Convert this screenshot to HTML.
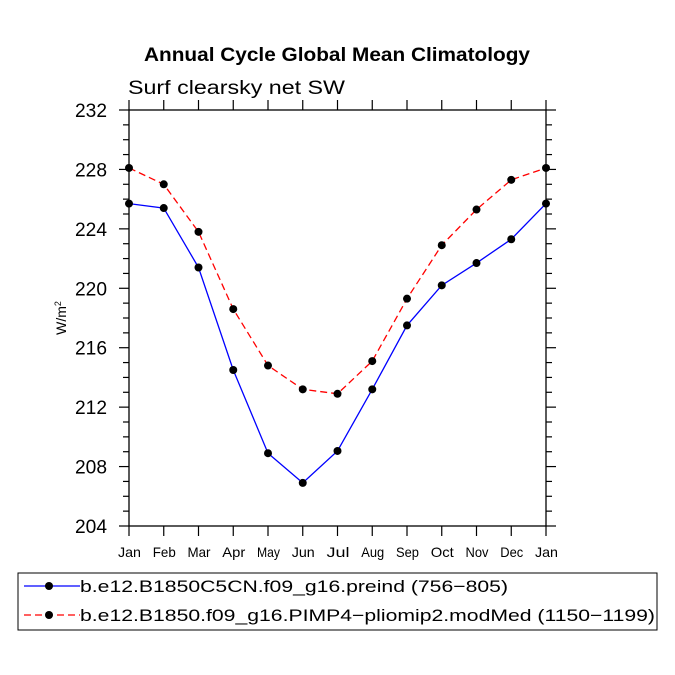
<!DOCTYPE html>
<html><head><meta charset="utf-8"><style>body{margin:0;background:#fff}svg{display:block}text{font-family:"Liberation Sans",sans-serif}</style></head>
<body>
<svg id="c" width="675" height="675" viewBox="0 0 675 675">
<text x="144" y="61" textLength="386" lengthAdjust="spacingAndGlyphs" font-size="19" font-weight="bold">Annual Cycle Global Mean Climatology</text>
<text x="128" y="94" textLength="217" lengthAdjust="spacingAndGlyphs" font-size="19">Surf clearsky net SW</text>
<text transform="translate(66,318) rotate(-90)" text-anchor="middle" font-size="14">W/m<tspan dy="-5" font-size="9">2</tspan></text>
<g id="axes"></g><g id="series"></g>
<rect x="18" y="573" width="639" height="57" fill="none" stroke="#000" stroke-width="1"/>
<g>
<line x1="24" y1="586" x2="80" y2="586" stroke="#00f" stroke-width="1.3"/><circle cx="49" cy="586" r="4" fill="#000"/>
<text x="80" y="592" textLength="428" lengthAdjust="spacingAndGlyphs" font-size="17">b.e12.B1850C5CN.f09_g16.preind (756−805)</text></g>
<g>
<line x1="24" y1="615" x2="80" y2="615" stroke="#f00" stroke-width="1.3" stroke-dasharray="7,4"/><circle cx="49" cy="615" r="4" fill="#000"/>
<text x="80" y="621" textLength="575" lengthAdjust="spacingAndGlyphs" font-size="17">b.e12.B1850.f09_g16.PIMP4−pliomip2.modMed (1150−1199)</text></g>
</svg>
<script>
const months=["Jan","Feb","Mar","Apr","May","Jun","Jul","Aug","Sep","Oct","Nov","Dec","Jan"];
const preind=[225.7,225.4,221.4,214.5,208.9,206.9,209.05,213.2,217.5,220.2,221.7,223.3,225.7];
const pliomip=[228.1,227.0,223.8,218.6,214.8,213.2,212.9,215.1,219.3,222.9,225.3,227.3,228.1];
const yTicks=[204,208,212,216,220,224,228,232];
const L=129,R=546,T=110,B=526,ymin=204,ymax=232;
const xs=i=>L+(R-L)*i/(months.length-1);
const ys=v=>B-(B-T)*(v-ymin)/(ymax-ymin);
const NS="http://www.w3.org/2000/svg";
function mk(t,a,p){const e=document.createElementNS(NS,t);for(const k in a)e.setAttribute(k,a[k]);p.appendChild(e);return e;}
const ax=document.getElementById('axes'),se=document.getElementById('series');
const box=mk('rect',{x:L,y:T,width:R-L,height:B-T,fill:'none',stroke:'#000','stroke-width':1.3},ax);


for(let v=ymin;v<=ymax;v++){const maj=yTicks.includes(v);const y=ys(v);const len=maj?10:6;
mk('line',{x1:L-len,y1:y,x2:L,y2:y,stroke:'#000','stroke-width':1.2},ax);
mk('line',{x1:R,y1:y,x2:R+len,y2:y,stroke:'#000','stroke-width':1.2},ax);
if(maj){const t=mk('text',{x:L-22,y:y+7,'text-anchor':'end','font-size':19,textLength:32,lengthAdjust:'spacingAndGlyphs'},ax);t.textContent=v;

}}
months.forEach((m,i)=>{const x=xs(i);
mk('line',{x1:x,y1:B,x2:x,y2:B+10,stroke:'#000','stroke-width':1.2},ax);
mk('line',{x1:x,y1:T-10,x2:x,y2:T,stroke:'#000','stroke-width':1.2},ax);
const t=mk('text',{x:x-11,y:B+31,'font-size':14,textLength:23,lengthAdjust:'spacingAndGlyphs'},ax);t.textContent=m;

});
function draw(vals,col,dash,name){const g=mk('g',{},se);


mk('polyline',{points:vals.map((v,i)=>xs(i)+','+ys(v)).join(' '),fill:'none',stroke:col,'stroke-width':1.3,'stroke-dasharray':dash},g);
vals.forEach((v,i)=>{const c=mk('circle',{cx:xs(i),cy:ys(v),r:4,fill:'#000'},g);

});}
draw(preind,'#00f','none','series-preind');
draw(pliomip,'#f00','7,4','series-pliomip');
</script>
</body></html>
